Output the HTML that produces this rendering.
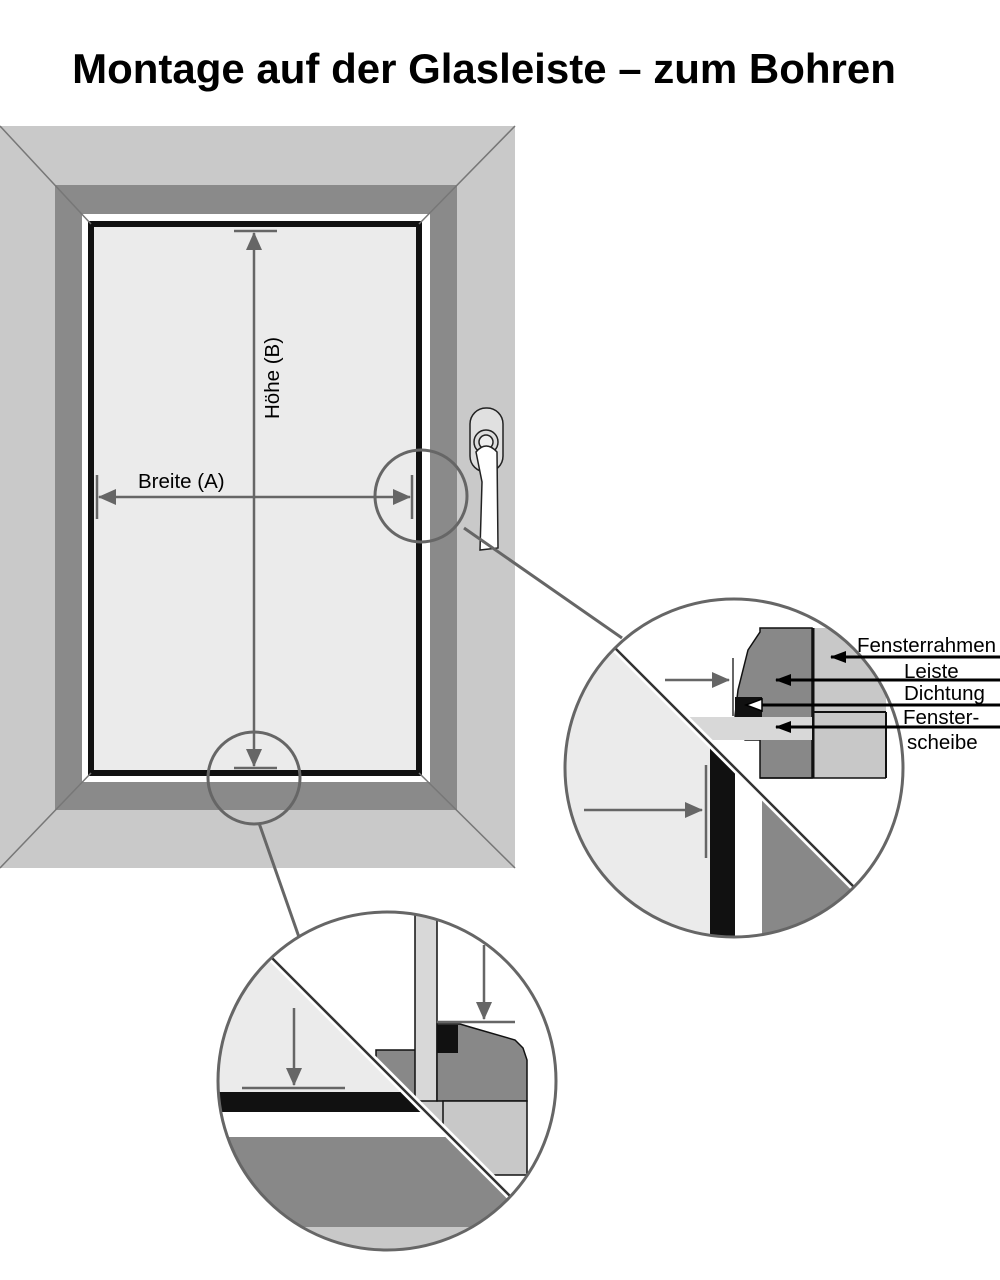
<!DOCTYPE html>
<html><head><meta charset="utf-8"><style>
html,body{margin:0;padding:0;background:#fff;width:1000px;height:1280px;overflow:hidden}
svg{display:block}
text{font-family:"Liberation Sans",sans-serif}
</style></head><body>
<svg width="1000" height="1280" viewBox="0 0 1000 1280" xmlns="http://www.w3.org/2000/svg">
<defs>
<marker id="gb" markerWidth="18" markerHeight="16" refX="17" refY="8" orient="auto" markerUnits="userSpaceOnUse"><path d="M0,0 L18,8 L0,16 Z" fill="#666"/></marker>
<marker id="ba" markerWidth="16" markerHeight="12" refX="15" refY="6" orient="auto" markerUnits="userSpaceOnUse"><path d="M0,0 L16,6 L0,12 Z" fill="#000"/></marker>
<clipPath id="c1"><circle cx="734" cy="768" r="169"/></clipPath>
<clipPath id="c1u"><polygon points="560,593 920,953 920,560 560,560"/></clipPath>
<clipPath id="c1l"><polygon points="560,593 920,953 920,960 540,960 540,593"/></clipPath>
<clipPath id="c2"><circle cx="387" cy="1081" r="169"/></clipPath>
<clipPath id="c2u"><polygon points="200,886 600,1286 600,880"/></clipPath>
<clipPath id="c2l"><polygon points="200,886 600,1286 600,1290 200,1290"/></clipPath>
</defs>
<text x="484" y="83" text-anchor="middle" font-size="42" font-weight="bold">Montage auf der Glasleiste – zum Bohren</text>

<rect x="0" y="126" width="515" height="742" fill="#c9c9c9"/>
<rect x="55" y="185" width="402" height="625" fill="#8a8a8a"/>
<rect x="82" y="214" width="348" height="568" fill="#fff"/>
<rect x="91" y="224" width="328" height="549" fill="#ebebeb" stroke="#111" stroke-width="6"/>
<g stroke="#777" stroke-width="1.5">
<line x1="0" y1="126" x2="91" y2="224"/><line x1="515" y1="126" x2="419" y2="224"/>
<line x1="0" y1="868" x2="91" y2="773"/><line x1="515" y1="868" x2="419" y2="773"/>
</g>

<g stroke="#666" stroke-width="2.5">
<line x1="234" y1="231" x2="277" y2="231"/>
<line x1="234" y1="768" x2="277" y2="768"/>
<line x1="254" y1="497" x2="254" y2="233" marker-end="url(#gb)"/>
<line x1="254" y1="497" x2="254" y2="766" marker-end="url(#gb)"/>
<line x1="97" y1="475" x2="97" y2="519"/>
<line x1="412" y1="475" x2="412" y2="519"/>
<line x1="254" y1="497" x2="99" y2="497" marker-end="url(#gb)"/>
<line x1="254" y1="497" x2="410" y2="497" marker-end="url(#gb)"/>
</g>
<text x="138" y="488" font-size="20.5">Breite (A)</text>
<text transform="translate(279,378) rotate(-90)" text-anchor="middle" font-size="20.5">Höhe (B)</text>

<rect x="470" y="408" width="33" height="64" rx="16" fill="#e0e0e0" stroke="#222" stroke-width="1.5"/>
<circle cx="486" cy="442" r="12" fill="#ddd" stroke="#222" stroke-width="1.5"/>
<circle cx="486" cy="442" r="7" fill="#eee" stroke="#222" stroke-width="1.5"/>
<path d="M476,452 Q486,440 497,452 L498,548 L480,550 L482,482 Z" fill="#fff" stroke="#222" stroke-width="1.5"/>

<g fill="none" stroke="#666" stroke-width="3">
<circle cx="421" cy="496" r="46"/>
<circle cx="254" cy="778" r="46"/>
<line x1="464" y1="528" x2="622" y2="638"/>
<line x1="259" y1="823" x2="300" y2="940"/>
</g>

<g clip-path="url(#c1)">
<rect x="560" y="595" width="350" height="350" fill="#fff"/>
<g clip-path="url(#c1l)">
<rect x="560" y="595" width="360" height="360" fill="#ebebeb"/>
<rect x="710" y="740" width="25" height="220" fill="#111"/>
<rect x="735" y="740" width="27" height="220" fill="#fff"/>
<rect x="762" y="740" width="160" height="220" fill="#888"/>
<line x1="706" y1="765" x2="706" y2="858" stroke="#666" stroke-width="2.5"/>
<line x1="584" y1="810" x2="702" y2="810" stroke="#666" stroke-width="2.5" marker-end="url(#gb)"/>
</g>
<g clip-path="url(#c1u)">
<rect x="812" y="628" width="74" height="150" fill="#c8c8c8"/>
<path d="M760,628 L812,628 L812,778 L760,778 L760,740 L745,740 L735,716 L738,690 L748,650 L760,632 Z" fill="#888" stroke="#111" stroke-width="1.5"/>
<line x1="813" y1="628" x2="813" y2="778" stroke="#111" stroke-width="3"/>
<line x1="886" y1="712" x2="886" y2="778" stroke="#111" stroke-width="2"/>
<line x1="812" y1="712" x2="886" y2="712" stroke="#111" stroke-width="2"/>
<line x1="760" y1="778" x2="886" y2="778" stroke="#111" stroke-width="1.5"/>
<rect x="680" y="717" width="132" height="23" fill="#d8d8d8"/>
<rect x="735" y="697" width="27" height="20" fill="#111"/>
<line x1="733" y1="658" x2="733" y2="716" stroke="#666" stroke-width="2"/>
<line x1="665" y1="680" x2="729" y2="680" stroke="#666" stroke-width="2.5" marker-end="url(#gb)"/>
</g>
<line x1="560" y1="593" x2="920" y2="953" stroke="#fff" stroke-width="8"/>
<line x1="560" y1="593" x2="920" y2="953" stroke="#333" stroke-width="2.5"/>
</g>
<circle cx="734" cy="768" r="169" fill="none" stroke="#666" stroke-width="3"/>
<g stroke="#000" stroke-width="3">
<line x1="1000" y1="657" x2="831" y2="657" marker-end="url(#ba)"/>
<line x1="1000" y1="680" x2="776" y2="680" marker-end="url(#ba)"/>
<line x1="1000" y1="705" x2="762" y2="705"/>
<line x1="1000" y1="727" x2="776" y2="727" marker-end="url(#ba)"/>
</g>
<path d="M762,699 L746,705 L762,711 Z" fill="#fff" stroke="#000" stroke-width="1.5"/>
<g font-size="20.5" fill="#000">
<text x="857" y="652">Fensterrahmen</text>
<text x="904" y="678">Leiste</text>
<text x="904" y="700">Dichtung</text>
<text x="903" y="724">Fenster-</text>
<text x="907" y="749">scheibe</text>
</g>

<g clip-path="url(#c2)">
<rect x="215" y="905" width="345" height="360" fill="#fff"/>
<g clip-path="url(#c2l)">
<rect x="200" y="880" width="400" height="410" fill="#ebebeb"/>
<rect x="200" y="1092" width="400" height="20" fill="#111"/>
<rect x="200" y="1112" width="400" height="25" fill="#fff"/>
<rect x="200" y="1137" width="400" height="90" fill="#888"/>
<rect x="200" y="1227" width="400" height="60" fill="#c8c8c8"/>
<line x1="242" y1="1088" x2="345" y2="1088" stroke="#666" stroke-width="2.5"/>
<line x1="294" y1="1008" x2="294" y2="1085" stroke="#666" stroke-width="2.5" marker-end="url(#gb)"/>
</g>
<g clip-path="url(#c2u)">
<rect x="376" y="1050" width="40" height="52" fill="#888" stroke="#111" stroke-width="1.5"/>
<rect x="415" y="1101" width="28" height="30" fill="#c8c8c8"/>
<rect x="415" y="905" width="22" height="196" fill="#d8d8d8" stroke="#111" stroke-width="1.5"/>
<path d="M437,1024 L460,1024 L470,1027 L515,1040 L523,1048 L527,1060 L527,1101 L437,1101 Z" fill="#888" stroke="#111" stroke-width="1.5"/>
<rect x="437" y="1025" width="21" height="28" fill="#111"/>
<rect x="443" y="1101" width="84" height="74" fill="#c8c8c8" stroke="#111" stroke-width="1.5"/>
<line x1="437" y1="1022" x2="515" y2="1022" stroke="#666" stroke-width="2.5"/>
<line x1="484" y1="945" x2="484" y2="1019" stroke="#666" stroke-width="2.5" marker-end="url(#gb)"/>
</g>
<line x1="200" y1="886" x2="600" y2="1286" stroke="#fff" stroke-width="8"/>
<line x1="200" y1="886" x2="600" y2="1286" stroke="#333" stroke-width="2.5"/>
</g>
<circle cx="387" cy="1081" r="169" fill="none" stroke="#666" stroke-width="3"/>
</svg>
</body></html>
